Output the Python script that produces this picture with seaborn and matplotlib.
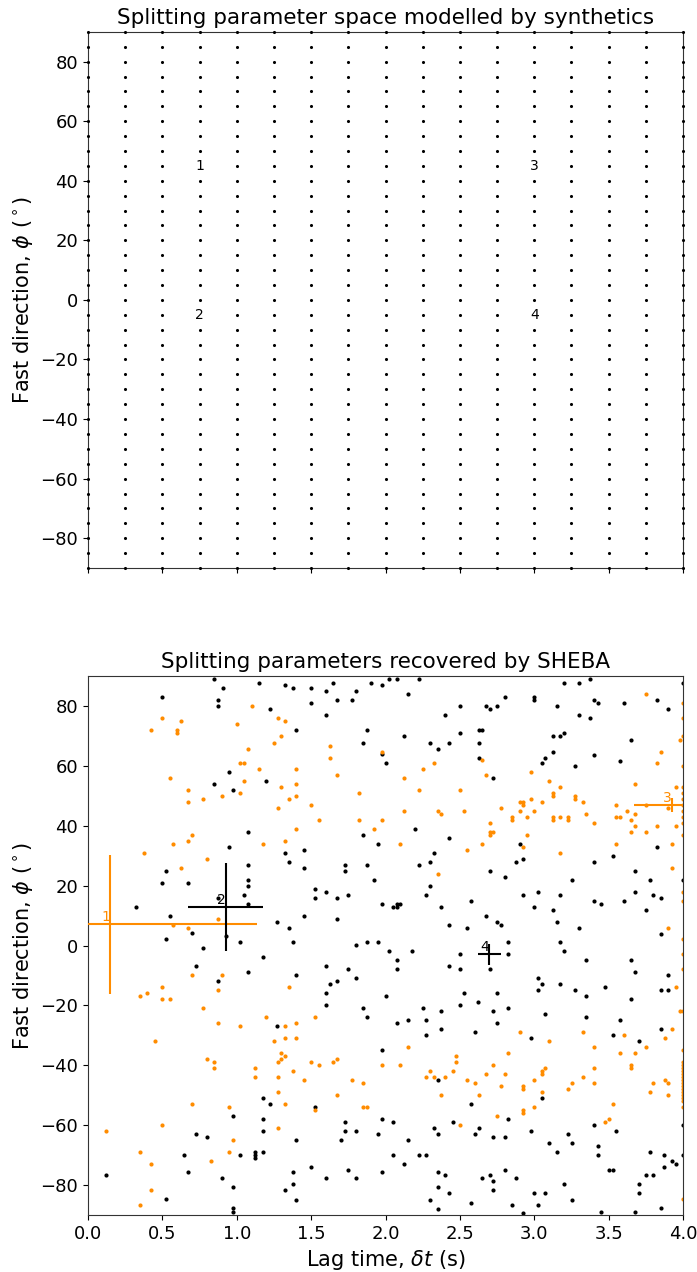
import numpy as np
import pandas as pd
import matplotlib
matplotlib.use("Agg")
import matplotlib.pyplot as plt
import seaborn as sns

# ---------------- data ----------------
# synthetic grid (top panel)
grid_dt = [0.0, 0.25, 0.5, 0.75, 1.0, 1.25, 1.5, 1.75, 2.0, 2.25, 2.5, 2.75,
           3.0, 3.25, 3.5, 3.75, 4.0]
grid_phi = [-90, -85, -80, -75, -70, -65, -60, -55, -50, -45, -40, -35, -30,
            -25, -20, -15, -10, -5, 0, 5, 10, 15, 20, 25, 30, 35, 40, 45, 50,
            55, 60, 65, 70, 75, 80, 85, 90]
grid_labels = ["1", "2", "3", "4"]
grid_label_dt = [0.75, 0.75, 3.0, 3.0]
grid_label_phi = [45, -5, 45, -5]

# recovered parameters (bottom panel) - black
black_dt = [
    0.849, 0.905, 0.500, 0.874, 0.874, 1.147, 1.224, 0.948, 0.847, 0.973, 1.197, 1.073, 0.948,
    1.324, 1.376, 1.499, 1.600, 1.649, 1.499, 1.674, 1.775, 1.799, 1.900, 1.974, 2.026, 2.075,
    2.225, 2.151, 1.600, 2.400, 2.501, 1.401, 1.876, 1.849, 2.124, 2.501, 2.626, 2.299, 2.351,
    2.427, 2.626, 1.974, 2.001, 2.626, 2.201, 1.849, 1.950, 2.427,
    2.651, 2.676, 2.700, 2.752, 2.801, 3.001, 3.001, 3.200, 3.301, 3.375, 3.151, 3.402, 3.426,
    3.301, 3.375, 3.601, 3.825, 3.901, 4.0, 3.126, 3.175, 3.200, 3.126, 3.075, 3.050, 3.276,
    3.402, 3.577, 3.650, 2.725, 2.902, 3.825,
    0.524, 0.500, 0.675, 0.323, 0.549, 0.524, 0.699, 0.773, 1.073, 1.073, 1.073, 1.049, 1.073,
    0.874, 0.925, 1.024, 1.174, 1.073, 0.724, 0.874, 1.273, 1.273,
    1.324, 1.450, 1.349, 1.450, 1.726, 1.726, 1.876, 1.925, 1.524, 1.600, 1.524, 1.674, 1.750,
    1.974, 2.050, 2.075, 2.075, 2.100, 2.225, 2.299, 2.326, 2.299, 2.275, 2.375, 2.575, 1.450,
    1.674, 1.349, 1.376, 1.799, 1.876, 1.950, 2.026, 2.176, 2.075, 2.075, 2.425, 2.550, 2.499,
    2.425, 2.499, 1.600, 1.750, 1.401, 1.799, 1.674, 1.625, 1.600, 2.001, 2.526, 1.600, 1.849,
    1.876, 2.250, 2.375, 2.499, 2.624, 2.075, 2.149, 2.275, 2.375,
    2.700, 2.801, 2.875, 2.927, 2.924, 3.025, 3.175, 3.001, 3.126, 3.151, 3.252, 3.402, 3.527,
    3.675, 3.776, 3.675, 3.801, 3.852, 3.402, 3.451, 3.601, 3.751, 2.676, 2.750, 2.776, 2.826,
    2.826, 3.175, 3.200, 3.301, 3.852, 4.0, 2.700, 3.350, 3.650, 3.675, 3.025, 3.050, 3.025,
    3.175, 3.276, 3.350, 3.476, 3.650, 3.852, 3.901, 3.901, 2.750, 2.725, 2.826, 2.750, 3.075,
    3.350, 3.577, 3.852,
    0.123, 0.524, 0.648, 0.675, 0.724, 0.800, 0.899, 0.973, 0.973, 0.973, 0.973, 1.024, 1.125,
    1.125, 1.125, 1.174, 1.224, 1.174, 1.174, 1.174, 1.324,
    2.275, 2.600, 1.974, 1.524, 1.726, 1.726, 1.799, 1.701, 1.401, 1.974, 2.050, 1.950, 2.149,
    2.050, 2.124, 2.225, 2.275, 2.326, 2.351, 2.351, 2.452, 2.575, 2.626, 2.600, 1.499, 1.750,
    1.799, 1.600, 1.376, 1.376, 1.401, 1.974, 2.351, 2.400, 2.351, 2.425, 2.299, 2.351, 2.575,
    2.976, 3.527, 3.702, 3.050, 2.826, 2.976, 2.725, 2.801, 3.101, 3.151, 3.225, 3.252, 3.402,
    3.550, 3.426, 3.426, 3.500, 3.527, 3.776, 3.875, 3.924, 3.951, 3.875, 3.751, 3.801, 3.702,
    3.702, 3.852, 3.675, 3.451, 3.252, 3.200, 3.075, 3.001, 3.025, 2.850, 2.924, 2.725, 2.725,
    2.700, 2.651, 2.801, 2.875, 4.0, 4.0,
]
black_phi = [
    88.9, 85.9, 82.9, 81.9, 79.9, 87.8, 78.9, 57.9, 53.9, 51.9, 54.9, 37.9, 32.9,
    86.9, 85.9, 85.9, 84.9, 87.8, 80.9, 81.9, 81.9, 84.9, 87.8, 86.9, 88.9, 88.9,
    88.9, 83.9, 76.9, 76.9, 79.9, 71.9, 71.9, 67.8, 69.9, 70.9, 71.9, 67.8, 65.8,
    67.8, 67.8, 64.0, 60.8, 62.8, 38.9, 36.9, 33.9, 35.9,
    71.9, 79.9, 78.9, 79.9, 82.9, 82.9, 81.9, 87.8, 87.8, 88.9, 79.9, 81.9, 80.9,
    76.9, 75.9, 80.9, 81.9, 78.9, 87.8, 69.9, 69.9, 70.9, 64.8, 62.8, 60.8, 59.8,
    63.8, 61.8, 68.8, 55.9, 33.9, 32.9,
    24.9, 21.0, 21.0, 13.0, 10.0, 2.1, 4.1, -0.9, 27.0, 22.0, 20.0, 17.0, 14.0,
    16.0, 3.1, 1.1, -3.9, -8.9, -6.9, -11.9, 8.0, -26.9,
    31.0, 31.9, 28.0, 26.0, 27.0, 25.0, 27.0, 22.0, 19.0, 18.0, 16.0, 16.0, 17.0,
    14.0, 13.0, 13.0, 14.0, 14.0, 27.0, 28.0, 30.9, 20.0, 17.0, 13.0, 15.0, 10.0,
    9.0, 6.0, 1.1, 0.1, 1.1, 1.1, -1.9, -1.9, -4.9, -7.9, 7.0, 6.0, -2.9,
    -6.9, -7.9, -6.9, -7.9, -9.9, -10.9, -11.9, -13.0, -16.0, -16.9, -16.0, -20.0, -20.9,
    -23.9, -20.9, -22.0, -20.0, -19.0, -25.9, -24.9, -24.9, -27.9,
    25.0, 23.0, 27.9, 28.9, 17.0, 18.0, 17.0, 13.0, 12.0, 8.0, 22.0, 27.9, 29.9,
    25.0, 22.0, 18.0, 17.0, 16.0, 15.0, 14.0, 15.0, 12.0, 10.0, 8.0, 7.0, 1.1,
    -2.9, 1.1, -1.9, 6.0, 4.0, 22.0, -7.9, -4.9, -4.9, -8.9, -11.0, -13.0, -15.0,
    -13.0, -15.0, -17.0, -14.0, -18.0, -15.0, -15.0, -9.9, -16.0, -22.0, -21.0, -26.0, -23.0,
    -24.0, -25.0, -28.0,
    -76.8, -84.7, -69.8, -75.8, -62.8, -63.8, -77.8, -56.8, -80.8, -87.7, -88.9, -69.8, -68.8,
    -69.8, -70.8, -50.9, -52.8, -57.8, -61.8, -68.8, -81.7,
    -29.9, -28.9, -34.9, -53.8, -58.8, -61.8, -61.8, -64.8, -64.8, -57.8, -58.8, -62.8, -64.8,
    -69.8, -72.8, -69.8, -69.8, -60.8, -62.8, -44.9, -58.8, -52.8, -60.8, -62.8, -73.8, -74.8,
    -77.8, -77.8, -75.8, -79.8, -84.9, -75.8, -75.8, -76.8, -80.8, -82.8, -84.9, -87.9, -85.9,
    -30.9, -29.9, -31.9, -50.9, -57.8, -61.8, -63.8, -63.8, -65.8, -68.8, -62.8, -65.8, -59.8,
    -61.8, -66.8, -69.8, -74.8, -74.8, -68.8, -69.8, -71.8, -72.8, -73.8, -76.8, -76.8, -79.8,
    -82.8, -87.7, -88.9, -88.9, -84.9, -79.8, -82.8, -82.8, -86.7, -86.7, -89.4, -78.8, -81.8,
    -76.8, -77.8, -74.8, -77.8, -59.8, -69.8,
]

# recovered parameters (bottom panel) - orange
orange_dt = [
    0.500, 0.623, 0.424, 0.598, 0.598, 1.100, 0.999, 1.275, 1.300, 1.248, 1.073, 1.024, 1.049,
    1.150, 0.549, 1.049, 1.300, 0.675, 1.024, 0.899, 0.773, 0.675, 1.275, 0.699, 0.675, 0.574,
    1.174,
    1.324, 1.625, 1.625, 1.974, 1.401, 1.674, 2.124, 2.250, 2.326, 1.349, 1.401, 1.401, 1.499,
    1.824, 2.225, 2.501, 1.551, 1.824, 1.974, 2.124, 2.351, 2.375, 2.526, 1.401, 1.925, 1.324,
    2.100,
    2.651, 2.676, 2.976, 3.101, 3.175, 3.126, 3.126, 3.276, 3.276, 3.326, 3.050, 2.976, 2.902,
    2.927, 2.927, 2.902, 3.001, 2.951, 2.850, 2.850, 2.776, 3.126, 3.126, 3.175, 3.225, 3.225,
    3.350, 3.402, 2.700, 2.700, 2.725, 2.700, 2.951, 2.651, 2.927, 3.751, 3.852, 3.825, 3.978,
    3.675, 3.951, 3.550, 3.550, 3.577, 3.626, 3.650, 3.675, 3.675, 3.650, 3.751, 3.825, 3.951,
    3.550, 3.924, 3.901, 3.751,
    4.0, 4.0, 4.0, 4.0, 4.0, 4.0, 4.0, 4.0, 4.0, 4.0, 4.0, 4.0,
    0.374, 0.800, 0.623, 0.874, 0.574, 0.675, 0.699, 0.899, 0.500, 0.350, 0.399, 0.500, 0.549,
    0.874, 0.773, 1.199, 0.874, 1.024,
    2.550, 2.351, 1.349, 1.524, 1.401, 1.324,
    3.175, 3.926, 3.901, 3.951, 3.978, 3.926, 4.0, 4.0, 4.0, 4.0, 4.0, 4.0,
    0.448, 0.800, 0.849, 0.849, 1.125, 1.125, 1.250, 1.324, 1.300, 1.324, 1.300, 1.275, 1.275,
    1.275, 1.324, 0.699, 0.948, 0.123, 0.500, 0.973, 0.948, 0.825, 0.350, 0.424, 0.424, 0.350,
    1.275,
    1.401, 1.376, 1.450, 1.499, 1.551, 1.649, 1.674, 1.674, 1.775, 1.849, 1.974, 2.100, 2.149,
    1.849, 1.876, 1.524, 2.275, 2.299, 2.326, 2.400, 2.375, 2.452, 2.474, 2.474, 2.550, 2.600,
    2.626, 2.501,
    2.902, 3.326, 3.601, 3.101, 2.826, 2.725, 2.676, 2.801, 2.776, 2.924, 2.924, 3.001, 3.050,
    3.050, 3.050, 3.075, 3.252, 3.225, 3.326, 3.402, 3.402, 3.402, 3.577, 3.650, 3.650, 3.675,
    3.751, 3.877, 3.801, 3.776, 3.877, 3.901, 3.901, 3.527, 3.500, 3.476, 2.924, 2.924, 3.001,
    2.750,
    4.0, 4.0, 4.0, 4.0, 4.0, 4.0, 4.0, 4.0, 4.0, 4.0, 4.0, 4.0, 4.0, 4.0, 4.0, 4.0, 4.0,
]
orange_phi = [
    75.9, 74.9, 71.9, 71.9, 70.9, 79.9, 73.9, 75.9, 69.9, 67.8, 65.8, 60.8, 60.8,
    58.9, 55.9, 54.9, 52.9, 51.9, 50.9, 49.9, 48.9, 47.9, 46.0, 37.0, 34.9, 33.9,
    33.9,
    74.9, 66.8, 62.8, 64.8, 58.9, 56.8, 55.9, 58.9, 60.8, 48.9, 53.9, 49.9, 46.9,
    50.9, 51.9, 51.9, 41.9, 41.9, 41.9, 44.9, 44.9, 43.9, 44.9, 38.9, 38.9, 34.9,
    33.9,
    61.9, 56.8, 57.9, 54.9, 52.9, 50.9, 49.9, 49.9, 48.9, 47.9, 47.9, 48.9, 47.9,
    47.9, 46.9, 44.9, 44.9, 42.9, 42.9, 41.9, 45.9, 42.9, 41.9, 42.9, 42.9, 41.9,
    43.9, 40.9, 40.9, 37.8, 37.8, 36.9, 36.9, 33.9, 32.9, 83.9, 64.8, 60.8, 68.8,
    53.9, 52.9, 46.9, 42.9, 42.9, 44.9, 41.9, 43.9, 39.9, 37.8, 37.8, 39.9, 39.9,
    33.9, 33.9, 45.9, 46.9,
    80.9, 75.9, 69.9, 59.8, 52.9, 50.9, 48.9, 46.9, 44.9, 42.9, 40.9, 36.9,
    31.0, 29.0, 26.0, 9.0, 7.0, 6.0, -9.9, -9.9, -14.0, -16.9, -16.0, -18.0, -18.0,
    -15.0, -21.0, -23.9, -25.9, -26.9,
    31.8, 24.0, -14.0, -23.9, -25.9, -26.9,
    30.9, 26.0, 6.0, -14.0, -22.0, -27.9, 18.0, 15.0, 2.1, -2.9, -7.9, -22.0,
    -31.9, -37.9, -38.9, -40.9, -40.9, -43.9, -31.9, -30.9, -35.9, -36.9, -37.9, -38.9, -43.9,
    -48.9, -52.8, -52.8, -53.8, -61.8, -59.8, -64.8, -68.8, -71.8, -68.8, -72.8, -81.7, -86.7,
    -60.8,
    -30.9, -41.9, -44.9, -38.9, -39.9, -38.9, -37.9, -49.9, -44.9, -45.9, -39.9, -39.9, -33.9,
    -53.8, -53.8, -54.9, -43.9, -41.9, -43.9, -43.9, -49.9, -41.9, -36.9, -38.9, -44.9, -45.9,
    -49.9, -59.8,
    -28.9, -28.9, -29.9, -31.9, -35.9, -39.9, -42.8, -42.8, -46.9, -46.9, -47.9, -44.9, -48.9,
    -41.8, -42.8, -40.9, -45.9, -47.9, -43.9, -33.9, -40.9, -45.9, -35.9, -39.9, -40.9, -35.9,
    -33.9, -30.9, -45.9, -48.9, -44.9, -45.9, -49.9, -52.9, -57.8, -58.8, -54.9, -55.8, -53.9,
    -56.8,
    -34.9, -38.8, -40.0, -41.0, -42.0, -43.0, -44.0, -45.0, -46.0, -47.0, -48.0, -49.0, -50.0,
    -51.0, -52.0, -53.8, -84.7,
]

# mean results with error bars
cross_labels = ["1", "2", "3", "4"]
cross_dt = [0.148, 0.925, 3.924, 2.698]
cross_phi = [7.1, 13.0, 46.9, -2.9]
cross_dt_err = [0.99, 0.25, 0.254, 0.077]
cross_phi_err = [23.2, 14.7, 2.3, 3.5]
cross_colors = ["darkorange", "black", "darkorange", "black"]

# ---------------- plotting ----------------
sns.set_style("ticks")
plt.rcParams['font.family'] = ['DejaVu Sans']
plt.rcParams['axes.edgecolor'] = '0.2'
plt.rcParams['text.color'] = 'black'
plt.rcParams['xtick.color'] = 'black'
plt.rcParams['ytick.color'] = 'black'
plt.rcParams['axes.labelcolor'] = 'black'

fig = plt.figure(figsize=(6.97, 12.72), dpi=100)
ax1 = fig.add_axes([0.1263, 0.5535, 0.8537, 0.4214])
ax2 = fig.add_axes([0.1263, 0.0448, 0.8537, 0.4237])

gx, gy = np.meshgrid(grid_dt, grid_phi)
grid_df = pd.DataFrame({"dt": gx.ravel(), "phi": gy.ravel()})
sns.scatterplot(data=grid_df, x="dt", y="phi", ax=ax1, color="black", s=5,
                linewidth=0, clip_on=False, zorder=3)
for lab, x, y in zip(grid_labels, grid_label_dt, grid_label_phi):
    ax1.text(x, y, lab, ha="center", va="center", fontsize=10, color="black",
             zorder=4, bbox=dict(facecolor="white", edgecolor="none", pad=0.5))

ax1.set_xlim(0, 4)
ax1.set_ylim(-90, 90)
ax1.set_xticks([0, 0.5, 1, 1.5, 2, 2.5, 3, 3.5, 4])
ax1.set_yticks([-80, -60, -40, -20, 0, 20, 40, 60, 80])
ax1.tick_params(labelbottom=False, labelsize=13)
ax1.set_xlabel("")
ax1.set_ylabel(r"Fast direction, $\phi$ ($^\circ$)", fontsize=15)
ax1.set_title("Splitting parameter space modelled by synthetics", fontsize=15.5)

black_df = pd.DataFrame({"dt": black_dt, "phi": black_phi})
orange_df = pd.DataFrame({"dt": orange_dt, "phi": orange_phi})
sns.scatterplot(data=black_df, x="dt", y="phi", ax=ax2, color="black", s=9,
                linewidth=0, zorder=2)
sns.scatterplot(data=orange_df, x="dt", y="phi", ax=ax2, color="darkorange", s=9,
                linewidth=0, zorder=2)

for lab, x, y, xe, ye, c in zip(cross_labels, cross_dt, cross_phi, cross_dt_err,
                                cross_phi_err, cross_colors):
    ax2.errorbar(x, y, xerr=xe, yerr=ye, fmt="none", ecolor=c, elinewidth=1.5,
                 capsize=0, zorder=3)
    ax2.text(x, y, lab, ha="right", va="bottom", fontsize=10, color=c, zorder=4)

ax2.set_xlim(0, 4)
ax2.set_ylim(-90, 90)
ax2.set_xticks([0, 0.5, 1, 1.5, 2, 2.5, 3, 3.5, 4])
ax2.set_yticks([-80, -60, -40, -20, 0, 20, 40, 60, 80])
ax2.tick_params(labelsize=13)
ax2.set_xlabel(r"Lag time, $\delta t$ (s)", fontsize=15)
ax2.set_ylabel(r"Fast direction, $\phi$ ($^\circ$)", fontsize=15)
ax2.set_title("Splitting parameters recovered by SHEBA", fontsize=15.5)

fig.savefig("out.png", dpi=100)
